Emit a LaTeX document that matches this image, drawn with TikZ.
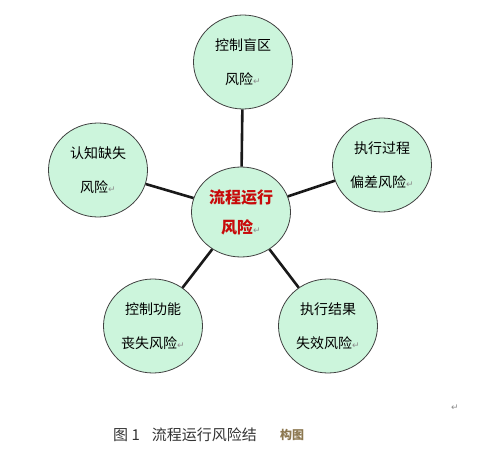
\documentclass[tikz,border=0pt]{standalone}
\usepackage{fontspec}
\setmainfont{Noto Sans CJK SC}
\newfontfamily\markfont{DejaVu Sans}
\definecolor{riskgreen}{RGB}{204, 245, 220}
\definecolor{riskred}{RGB}{200, 10, 10}
\definecolor{mosaicbrown}{RGB}{140, 120, 80}
\newcommand{\pmark}{{\markfont\color{black!45}\fontsize{9}{9}\selectfont ↵}}
\usetikzlibrary{shapes.geometric, positioning}

\begin{document}
\begin{tikzpicture}[x=1pt, y=1pt,
  riskbox/.style={ellipse, draw=black!75, line width=0.8pt, fill=riskgreen, minimum width=99pt, minimum height=94pt, align=center, font=\fontsize{14}{34}\selectfont, inner sep=0pt},
  hubbox/.style={riskbox, minimum height=90pt, text=riskred, font=\bfseries\fontsize{16}{30}\selectfont},
  link/.style={line width=2.6pt, black!90}
]
  \useasboundingbox (0, 0) rectangle (477, -449);
  % outer risks
  \node[riskbox] (blind) at (243, -62) {控制盲区\\风险\pmark};
  \node[riskbox] (cognition) at (98, -170) {认知缺失\\风险\pmark};
  \node[riskbox] (deviation) at (382, -165) {执行过程\\偏差风险\pmark};
  \node[riskbox] (function) at (153, -326) {控制功能\\丧失风险\pmark};
  \node[riskbox] (result) at (328, -326) {执行结果\\失效风险\pmark};
  % hub
  \node[hubbox] (hub) at (241, -212) {流程运行\\风险{\mdseries\pmark}};
  \foreach \n in {blind, cognition, deviation, function, result}
    \draw[link] (hub) -- (\n);
  % caption
  \node[font=\fontsize{9}{9}\selectfont] (capmark) at (455, -408) {\pmark};
  \node[anchor=west, text=black!80, font=\fontsize{15}{15}\selectfont, inner sep=0pt] (caption) at (113, -435) {图 1\hspace{12pt}流程运行风险结};
  \node[anchor=west, text=mosaicbrown, font=\bfseries\fontsize{12}{12}\selectfont, inner sep=0pt] (mosaic) at (280, -435) {构图};
\end{tikzpicture}
\end{document}
